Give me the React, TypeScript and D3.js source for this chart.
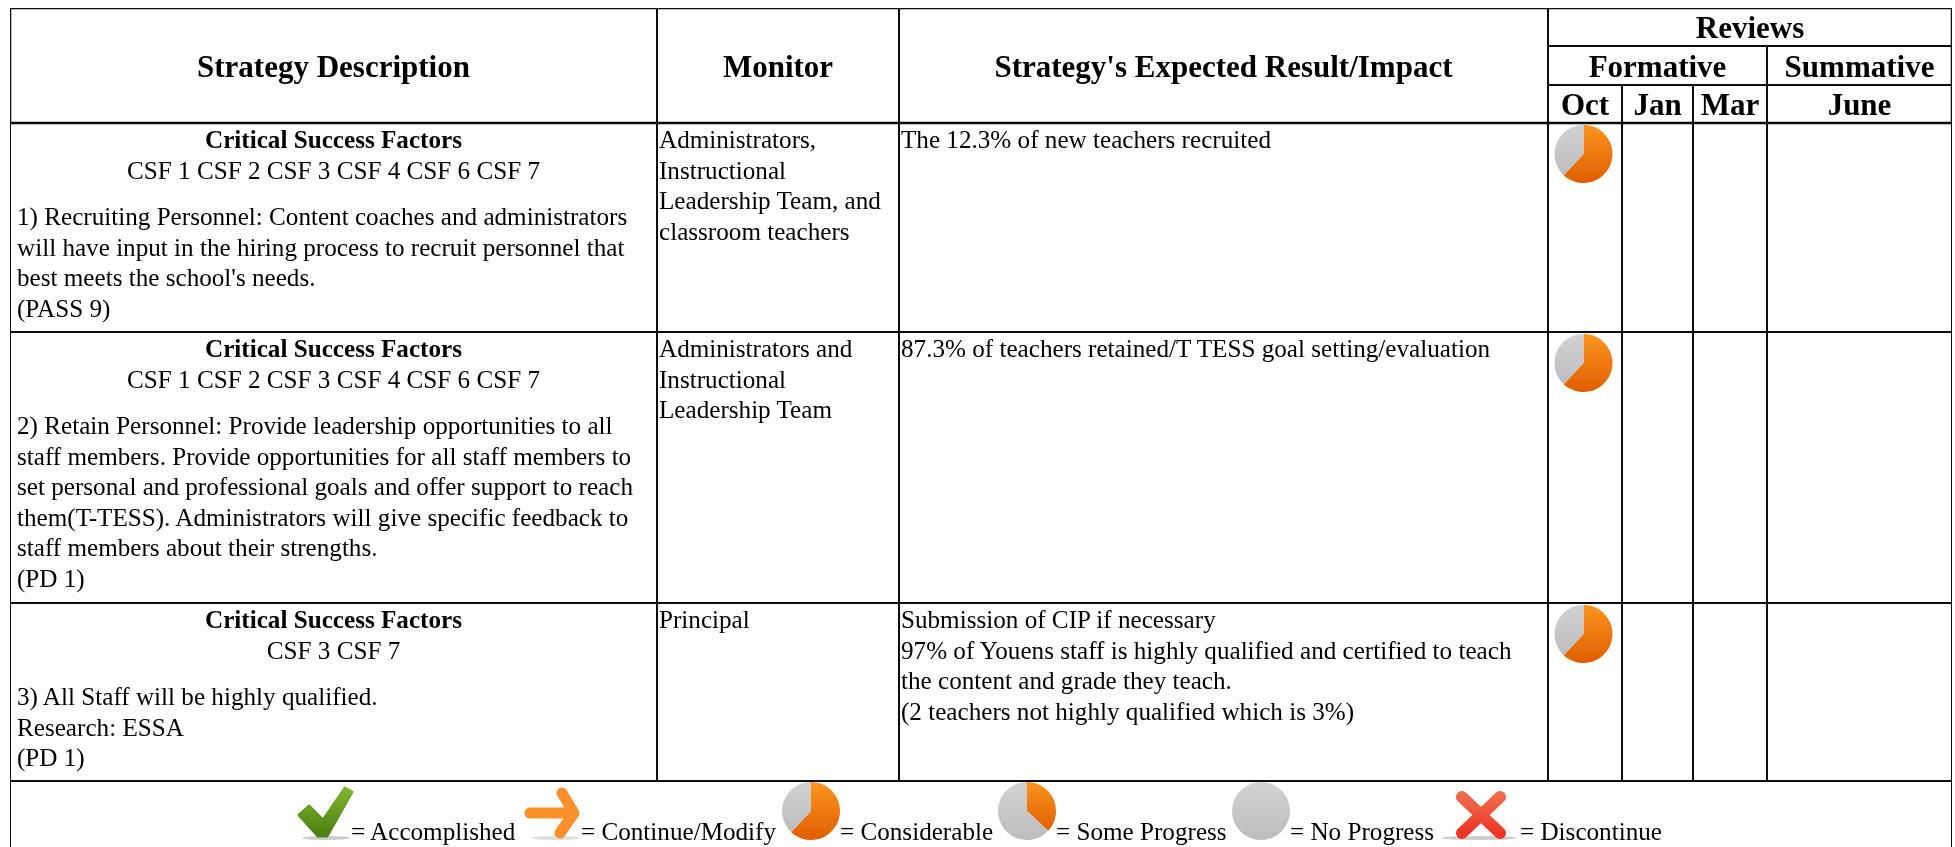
import React from 'react';
import * as d3 from 'd3';

// table content
const columnEdges = ['left', 'strategy', 'monitor', 'impact', 'oct', 'jan', 'mar', 'june'];
const headerColumns = ['Strategy Description', 'Monitor', "Strategy's Expected Result/Impact"];
const reviewPeriods = ['Oct', 'Jan', 'Mar', 'June'];
const csfTitle = 'Critical Success Factors';
const csfLists = ['CSF 1 CSF 2 CSF 3 CSF 4 CSF 6 CSF 7', 'CSF 1 CSF 2 CSF 3 CSF 4 CSF 6 CSF 7', 'CSF 3 CSF 7'];
const strategies = [
  [
    '1) Recruiting Personnel: Content coaches and administrators',
    'will have input in the hiring process to recruit personnel that',
    "best meets the school's needs.",
    '(PASS 9)',
  ],
  [
    '2) Retain Personnel: Provide leadership opportunities to all',
    'staff members. Provide opportunities for all staff members to',
    'set personal and professional goals and offer support to reach',
    'them(T-TESS). Administrators will give specific feedback to',
    'staff members about their strengths.',
    '(PD 1)',
  ],
  ['3) All Staff will be highly qualified.', 'Research: ESSA', '(PD 1)'],
];
const monitors = [
  ['Administrators,', 'Instructional', 'Leadership Team, and', 'classroom teachers'],
  ['Administrators and', 'Instructional', 'Leadership Team'],
  ['Principal'],
];
const impacts = [
  ['The 12.3% of new teachers recruited'],
  ['87.3% of teachers retained/T TESS goal setting/evaluation'],
  [
    'Submission of CIP if necessary',
    '97% of Youens staff is highly qualified and certified to teach',
    'the content and grade they teach.',
    '(2 teachers not highly qualified which is 3%)',
  ],
];
// share of the pie that is orange / gray
const considerable = [62, 38];
const someProgress = [37, 63];
const noProgress = [0, 100];
const legendLabels = ['= Accomplished', '= Continue/Modify', '= Considerable', '= Some Progress', '= No Progress', '= Discontinue'];

const width = 1955;
const height = 847;
const rowKeys = ['top', 'reviews', 'formative', 'head', 'r1', 'r2', 'r3', 'bottom'];

const x = d3.scaleOrdinal<string, number>().domain(columnEdges).range([10, 657, 899, 1548, 1622, 1693, 1767]);
const right = 1952;
const y = d3.scaleOrdinal<string, number>().domain(rowKeys).range([8, 46, 85, 123, 332, 603, 781, 847]);
const rowTops = ['head', 'r1', 'r2'].map(k => y(k));

const pie = d3.pie<number>().sort(null).value(d => d);
const pieColors = ['url(#orangeGrad)', 'url(#grayGrad)'];

const LINE = 30.6;
const BODY = 25.15;
const serif = '"Liberation Serif", "Times New Roman", serif';

function Pie({ values, cx, cy, r }: { values: number[]; cx: number; cy: number; r: number }) {
  const arc = d3.arc<d3.PieArcDatum<number>>().innerRadius(0).outerRadius(r);
  return (
    <g transform={`translate(${cx},${cy})`} filter="url(#soft)">
      {pie(values).map((d, i) => (
        <path key={i} d={arc(d) || ''} fill={pieColors[i]} />
      ))}
    </g>
  );
}

function Lines({ lines, x0, y0, anchor = 'start' }: { lines: string[]; x0: number; y0: number; anchor?: string }) {
  return (
    <>
      {lines.map((t, i) => (
        <text key={i} x={x0} y={y0 + i * LINE} textAnchor={anchor as any} fontSize={BODY}>
          {t}
        </text>
      ))}
    </>
  );
}

export default function App() {
  const hLine = (k: string, x1: number) => <line key={k} x1={x1} x2={right} y1={y(k)} y2={y(k)} />;
  const vLine = (k: string, y1: number, y2: number) => <line key={k} x1={x(k)} x2={x(k)} y1={y1} y2={y2} />;
  const line = d3.line();
  const checkPath = line([[299, 815], [309, 806], [323, 820], [345, 788], [352, 792], [327, 836], [318, 836]]) + 'Z';

  return (
    <svg
      width={width}
      height={height}
      style={{ position: 'absolute', left: 0, top: 0, display: 'block', background: '#fff' }}
      fontFamily={serif}
      fill="#000"
    >
      <defs>
        <linearGradient id="orangeGrad" x1="0" y1="0" x2="0" y2="1">
          <stop offset="0" stopColor="#f9951f" />
          <stop offset="1" stopColor="#e25e00" />
        </linearGradient>
        <linearGradient id="grayGrad" x1="0" y1="0" x2="0" y2="1">
          <stop offset="0" stopColor="#d2d2d2" />
          <stop offset="1" stopColor="#bcbcbc" />
        </linearGradient>
        <linearGradient id="greenGrad" x1="0" y1="0" x2="0" y2="1">
          <stop offset="0" stopColor="#7fb62e" />
          <stop offset="1" stopColor="#4d7d12" />
        </linearGradient>
        <linearGradient id="redGrad" x1="0" y1="0" x2="0" y2="1">
          <stop offset="0" stopColor="#ee6a4a" />
          <stop offset="1" stopColor="#ee3524" />
        </linearGradient>
        <filter id="soft" x="-20%" y="-20%" width="140%" height="140%">
          <feGaussianBlur stdDeviation="0.7" />
        </filter>
        <filter id="scan" x="0" y="0" width="100%" height="100%">
          <feGaussianBlur stdDeviation="0.35" />
        </filter>
      </defs>

      <g filter="url(#scan)">
        {/* grid */}
        <g stroke="#111" strokeWidth={2} fill="none">
          <rect x={x('left')} y={y('top')} width={right - x('left')} height={y('head') - y('top')} strokeWidth={2.5} />
          {vLine('left', y('top'), height)}
          <line x1={right} x2={right} y1={y('top')} y2={height} />
          {hLine('reviews', x('impact'))}
          {hLine('formative', x('impact'))}
          {hLine('head', x('left'))}
          {hLine('r1', x('left'))}
          {hLine('r2', x('left'))}
          {hLine('r3', x('left'))}
          {vLine('strategy', y('top'), y('r3'))}
          {vLine('monitor', y('top'), y('r3'))}
          {vLine('impact', y('top'), y('r3'))}
          {vLine('oct', y('formative'), y('r3'))}
          {vLine('jan', y('formative'), y('r3'))}
          {vLine('mar', y('reviews'), y('r3'))}
        </g>

        {/* header */}
        <g fontWeight="bold" fontSize={31} textAnchor="middle">
          <text x={(x('left') + x('strategy')) / 2} y={77}>{headerColumns[0]}</text>
          <text x={(x('strategy') + x('monitor')) / 2} y={77}>{headerColumns[1]}</text>
          <text x={(x('monitor') + x('impact')) / 2} y={77}>{headerColumns[2]}</text>
          <text x={(x('impact') + right) / 2} y={38}>Reviews</text>
          <text x={(x('impact') + x('mar')) / 2} y={77}>Formative</text>
          <text x={(x('mar') + right) / 2} y={77}>Summative</text>
          <text x={(x('impact') + x('oct')) / 2} y={115}>{reviewPeriods[0]}</text>
          <text x={(x('oct') + x('jan')) / 2} y={115}>{reviewPeriods[1]}</text>
          <text x={(x('jan') + x('mar')) / 2} y={115}>{reviewPeriods[2]}</text>
          <text x={(x('mar') + right) / 2} y={115}>{reviewPeriods[3]}</text>
        </g>

        {/* body rows */}
        {rowTops.map((top, i) => (
          <g key={i}>
            <text x={(x('left') + x('strategy')) / 2} y={top + 25} fontSize={BODY} fontWeight="bold" textAnchor="middle">
              {csfTitle}
            </text>
            <text x={(x('left') + x('strategy')) / 2} y={top + 55.5} fontSize={BODY} textAnchor="middle">
              {csfLists[i]}
            </text>
            <Lines lines={strategies[i]} x0={x('left') + 7} y0={top + 102} />
            <Lines lines={monitors[i]} x0={x('strategy') + 2} y0={top + 25} />
            <Lines lines={impacts[i]} x0={x('monitor') + 2} y0={top + 25} />
            <Pie values={considerable} cx={x('impact') + 35.5} cy={top + 31} r={29} />
          </g>
        ))}

        {/* legend */}
        <g fontSize={BODY}>
          <ellipse cx={326} cy={838} rx={24} ry={2} fill="#ccc" filter="url(#soft)" />
          <path d={checkPath} fill="url(#greenGrad)" stroke="url(#greenGrad)" strokeWidth={3} strokeLinejoin="round" filter="url(#soft)" />
          <text x={351} y={840}>{legendLabels[0]}</text>

          <ellipse cx={556} cy={838} rx={24} ry={2} fill="#ddd" filter="url(#soft)" />
          <g fill="none" stroke="#fb8f2c" strokeWidth={11} strokeLinecap="round" strokeLinejoin="round" filter="url(#soft)">
            <path d={line([[530, 813], [572, 813]]) || ''} />
            <path d={line([[562, 793], [574, 813], [560, 833]]) || ''} />
          </g>
          <text x={581} y={840}>{legendLabels[1]}</text>

          <Pie values={considerable} cx={811} cy={811} r={29} />
          <text x={840} y={840}>{legendLabels[2]}</text>

          <Pie values={someProgress} cx={1027} cy={811} r={29} />
          <text x={1056} y={840}>{legendLabels[3]}</text>

          <Pie values={noProgress} cx={1261} cy={811} r={29} />
          <text x={1290} y={840}>{legendLabels[4]}</text>

          <ellipse cx={1479} cy={838} rx={38} ry={2} fill="#ccc" filter="url(#soft)" />
          <g fill="none" stroke="url(#redGrad)" strokeWidth={12} strokeLinecap="round" filter="url(#soft)">
            <path d={line([[1462, 797], [1500, 833]]) || ''} />
            <path d={line([[1500, 797], [1462, 833]]) || ''} />
          </g>
          <text x={1520} y={840}>{legendLabels[5]}</text>
        </g>
      </g>
    </svg>
  );
}
